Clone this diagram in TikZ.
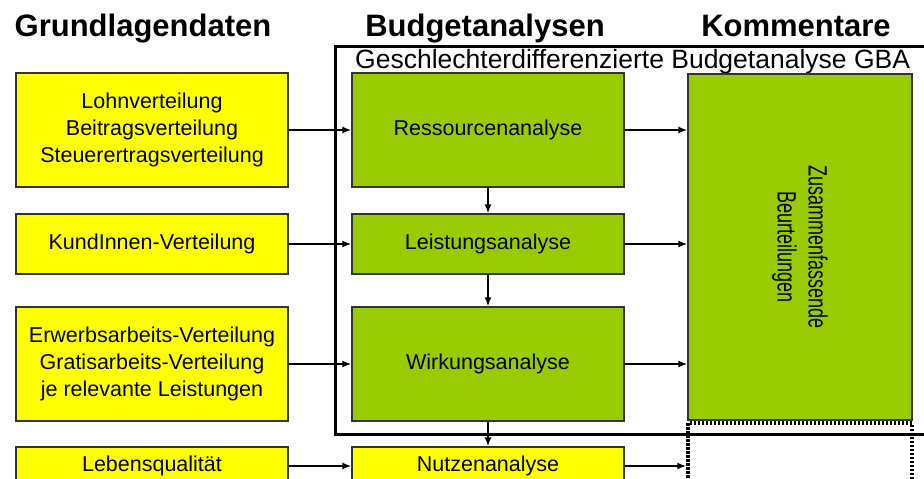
\documentclass[tikz,border=0pt]{standalone}
\usepackage{fontspec}
\setmainfont{Liberation Sans}
\newfontfamily\schmal[FakeStretch=0.68]{Liberation Sans}
\usetikzlibrary{arrows.meta}
\definecolor{gelb}{RGB}{255,255,0}
\definecolor{gruen}{RGB}{153,204,0}
\tikzset{
  kasten/.style={draw=black!80,line width=1.2pt,minimum width=272pt,align=center,inner sep=0pt,
    font=\fontsize{21.5}{27}\selectfont},
  gelbkasten/.style={kasten,fill=gelb},
  gruenkasten/.style={kasten,fill=gruen},
  titel/.style={anchor=base,font=\bfseries\fontsize{31}{31}\selectfont},
  pfeil/.style={line width=1.8pt,-{Latex[length=9pt,width=7pt]}}
}

\begin{document}
\begin{tikzpicture}[x=1pt,y=-1pt]
  \useasboundingbox (0,0) rectangle (924,479);
  \draw(143,36) node[titel] (tgrund) {Grundlagendaten};
  \draw(485,36) node[titel] (tbudget) {Budgetanalysen};
  \draw(796,36) node[titel] (tkomm) {Kommentare};
  \draw[line width=3pt] (940,46) -| (335,434) -- (940,434);
  \draw(355,68) node[anchor=base west,inner sep=0pt,font=\fontsize{26.5}{26.5}\selectfont] (gba)
    {Geschlechterdifferenzierte Budgetanalyse GBA};
  \draw(152,130) node[gelbkasten,minimum height=114pt] (lohn)
    {Lohnverteilung\\Beitragsverteilung\\Steuerertragsverteilung};
  \draw(152,244) node[gelbkasten,minimum height=60pt] (kund) {KundInnen-Verteilung};
  \draw(152,364) node[gelbkasten,minimum height=114pt] (erwerb)
    {Erwerbsarbeits-Verteilung\\Gratisarbeits-Verteilung\\je relevante Leistungen};
  \draw(152,466) node[gelbkasten,minimum height=38pt] (leben) {Lebensqualität};
  \draw(488,130) node[gruenkasten,minimum height=114pt] (ress) {Ressourcenanalyse};
  \draw(488,244) node[gruenkasten,minimum height=60pt] (leist) {Leistungsanalyse};
  \draw(488,364) node[gruenkasten,minimum height=114pt] (wirk) {Wirkungsanalyse};
  \draw(488,466) node[gelbkasten,minimum height=38pt] (nutz) {Nutzenanalyse};
  \draw(800,247) node[gruenkasten,minimum width=224pt,minimum height=346pt] (zus) {};
  \node[rotate=-90,align=center,font=\schmal\fontsize{26.5}{31}\selectfont] (zustext) at (zus.center)
    {Zusammenfassende\\Beurteilungen};
  \draw(800,483) node[draw=black,line width=3.5pt,dash pattern=on 2.5pt off 1.5pt,
    minimum width=224pt,minimum height=120pt] (nutzkomm) {};
  \draw[pfeil] (lohn.east) -- (ress.west);
  \draw[pfeil] (kund.east) -- (leist.west);
  \draw[pfeil] (erwerb.east) -- (wirk.west);
  \draw[pfeil] (leben.east) -- (nutz.west);
  \draw[pfeil] (ress.east) -- (ress.east -| zus.west);
  \draw[pfeil] (leist.east) -- (leist.east -| zus.west);
  \draw[pfeil] (wirk.east) -- (wirk.east -| zus.west);
  \draw[pfeil] (nutz.east) -- (nutz.east -| nutzkomm.west);
  \draw[pfeil] (ress.south) -- (leist.north);
  \draw[pfeil] (leist.south) -- (wirk.north);
  \draw[pfeil] (wirk.south) -- (nutz.north);
\end{tikzpicture}
\end{document}
